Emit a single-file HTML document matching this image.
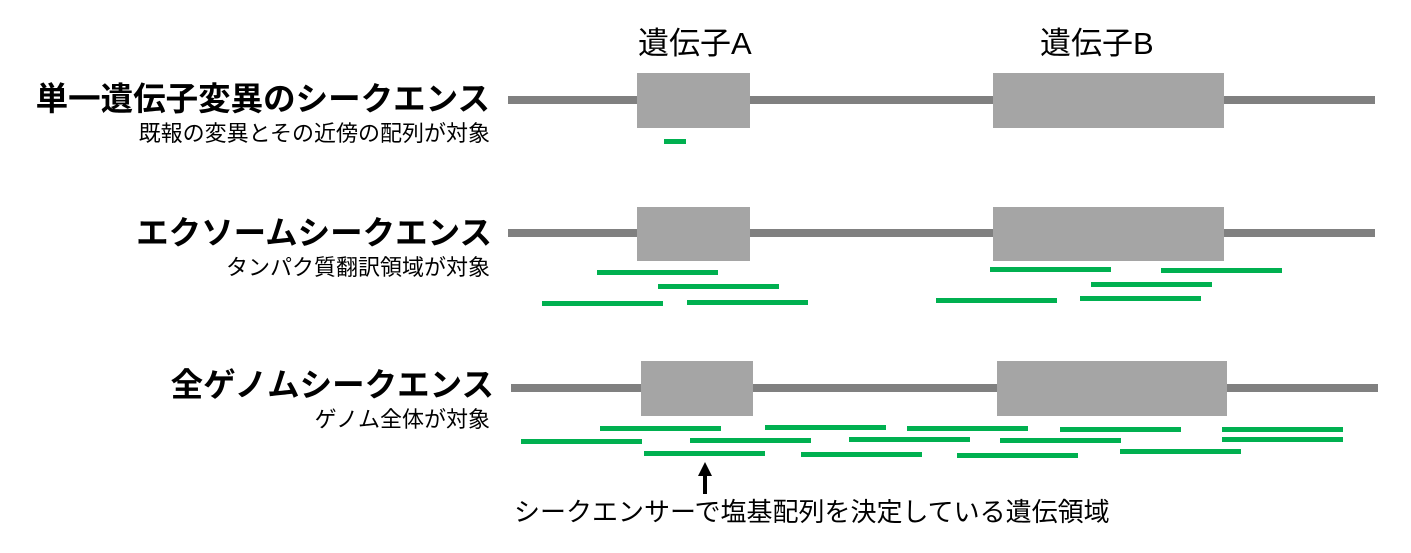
<!DOCTYPE html>
<html><head><meta charset="utf-8"><style>
body{margin:0;width:1411px;height:553px;background:#fff;position:relative;overflow:hidden;font-family:"Liberation Sans","Noto Sans CJK JP",sans-serif;}
div{position:absolute;}
.l{background:#808080;height:8px;}
.b{background:#a5a5a5;}
.g{background:#00b050;height:5px;width:121px;}
.t{font-weight:bold;font-size:32.5px;white-space:nowrap;text-align:right;line-height:1;}
.s{right:921px;font-size:22px;white-space:nowrap;text-align:right;line-height:1;}
.h{font-size:31px;line-height:1;white-space:nowrap;}
</style></head><body>
<div class="h" style="left:638px;top:28px">遺伝子A</div>
<div class="h" style="left:1040px;top:28px">遺伝子B</div>

<div class="t" style="top:83px;right:921px">単一遺伝子変異のシークエンス</div>
<div class="s" style="top:123px">既報の変異とその近傍の配列が対象</div>
<div class="l" style="left:508px;top:96px;width:867px"></div>
<div class="b" style="left:637px;top:73px;width:113px;height:55px"></div>
<div class="b" style="left:993px;top:73px;width:231px;height:55px"></div>
<div class="g" style="left:664px;top:139px;width:22px"></div>

<div class="t" style="top:217px;right:919px">エクソームシークエンス</div>
<div class="s" style="top:257px">タンパク質翻訳領域が対象</div>
<div class="l" style="left:508px;top:229px;width:867px"></div>
<div class="b" style="left:637px;top:207px;width:113px;height:54px"></div>
<div class="b" style="left:993px;top:207px;width:231px;height:54px"></div>
<div class="g" style="left:597px;top:270px"></div>
<div class="g" style="left:658px;top:284px"></div>
<div class="g" style="left:542px;top:301px"></div>
<div class="g" style="left:687px;top:300px"></div>
<div class="g" style="left:990px;top:267px"></div>
<div class="g" style="left:1161px;top:268px"></div>
<div class="g" style="left:1091px;top:282px"></div>
<div class="g" style="left:936px;top:298px"></div>
<div class="g" style="left:1080px;top:296px"></div>

<div class="t" style="top:369px;right:917px">全ゲノムシークエンス</div>
<div class="s" style="top:409px">ゲノム全体が対象</div>
<div class="l" style="left:511px;top:384px;width:867px"></div>
<div class="b" style="left:641px;top:361px;width:112px;height:55px"></div>
<div class="b" style="left:997px;top:361px;width:230px;height:55px"></div>
<div class="g" style="left:600px;top:426px"></div>
<div class="g" style="left:765px;top:425px"></div>
<div class="g" style="left:907px;top:426px"></div>
<div class="g" style="left:1060px;top:427px"></div>
<div class="g" style="left:1222px;top:427px"></div>
<div class="g" style="left:521px;top:439px"></div>
<div class="g" style="left:690px;top:438px"></div>
<div class="g" style="left:849px;top:437px"></div>
<div class="g" style="left:1000px;top:438px"></div>
<div class="g" style="left:1222px;top:437px"></div>
<div class="g" style="left:644px;top:451px"></div>
<div class="g" style="left:801px;top:452px"></div>
<div class="g" style="left:957px;top:453px"></div>
<div class="g" style="left:1120px;top:449px"></div>

<svg style="position:absolute;left:695px;top:460px" width="20" height="36"><polygon points="10,2 3,16 17,16" fill="#000"/><rect x="8" y="14" width="4" height="20" fill="#000"/></svg>
<div style="left:514px;top:499px;font-size:26px;white-space:nowrap;line-height:1">シークエンサーで塩基配列を決定している遺伝領域</div>
</body></html>
